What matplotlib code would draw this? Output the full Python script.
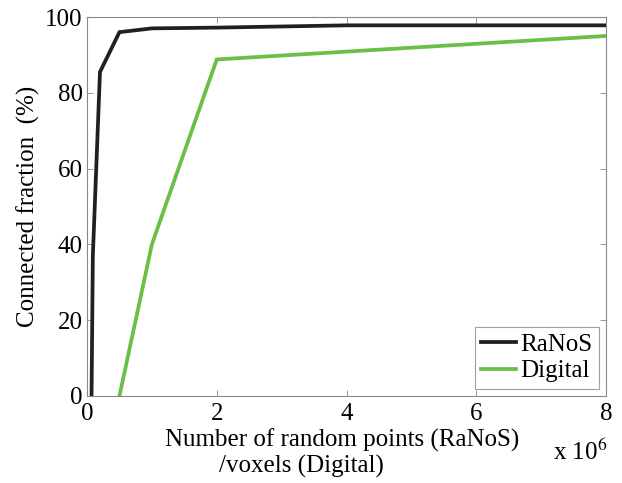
import matplotlib
matplotlib.use("Agg")
import matplotlib.pyplot as plt

# data (x in units of 10^6)
ranos_x = [0.07, 0.09, 0.2, 0.5, 1.0, 2.0, 4.0, 8.0]
ranos_y = [0, 37, 85.5, 96, 97, 97.2, 97.8, 97.8]
digital_x = [0.5, 1.0, 2.0, 8.0]
digital_y = [0, 40, 88.8, 95]

x_ticks = [0, 2, 4, 6, 8]
y_ticks = [0, 20, 40, 60, 80, 100]

W, H = 622, 483
FS = 18

plt.rcParams["font.family"] = ["Liberation Serif", "DejaVu Serif"]
plt.rcParams["mathtext.fontset"] = "stix"

fig = plt.figure(figsize=(W / 100, H / 100), dpi=100)
ax = fig.add_axes([87 / W, 1 - 396 / H, (606 - 87) / W, (396 - 17) / H])

ax.plot(ranos_x, ranos_y, color="#231f20", lw=2.7, label="RaNoS", solid_joinstyle="miter")
ax.plot(digital_x, digital_y, color="#6abf45", lw=2.7, label="Digital", solid_joinstyle="miter")

ax.set_xlim(0, 8)
ax.set_ylim(0, 100)
ax.set_xticks(x_ticks)
ax.set_yticks(y_ticks)
ax.tick_params(direction="in", length=4, width=0.6, color="#888888",
               labelsize=FS, top=True, right=True)
ax.tick_params(axis="x", pad=5)
ax.tick_params(axis="y", pad=3)
for s in ax.spines.values():
    s.set_color("#888888")
    s.set_linewidth(0.8)

ax.set_ylabel("Connected fraction  (%)", fontsize=FS, labelpad=4)

# x label in two lines, like the original
fig.text(342 / W, 1 - 440 / H, "Number of random points (RaNoS)", fontsize=FS,
         ha="center", va="center")
fig.text(301 / W, 1 - 466 / H, "/voxels (Digital)", fontsize=FS,
         ha="center", va="center")
fig.text(580 / W, 1 - 452 / H, r"x 10$^{6}$", fontsize=FS, ha="center", va="center")

leg = ax.legend(loc="lower right", fontsize=FS, frameon=True, fancybox=False,
                handlelength=1.4, handletextpad=0.15, borderpad=0.25,
                labelspacing=0.15, borderaxespad=0.3)
leg.get_frame().set_edgecolor("#888888")
leg.get_frame().set_linewidth(0.8)

fig.savefig("out.png", dpi=100)
